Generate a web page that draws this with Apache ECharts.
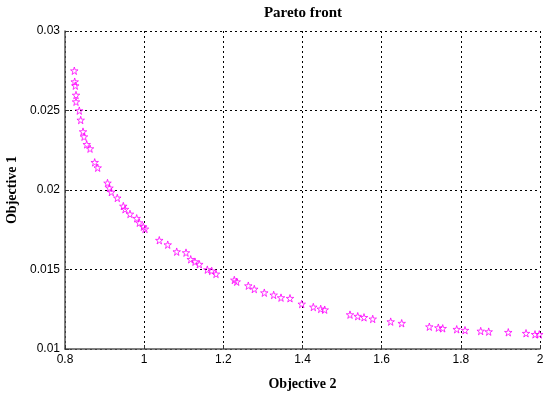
<!DOCTYPE html>
<html>
<head>
<meta charset="utf-8">
<script src="https://cdn.jsdelivr.net/npm/echarts@6/dist/echarts.min.js"></script>
<style>
html,body{margin:0;padding:0;background:#fff;}
#chart{width:550px;height:397px;}
</style>
</head>
<body>
<div id="chart"></div>
<script>
const objective2 = [0.8235,0.8245,0.8260,0.8278,0.8278,0.8361,0.8397,0.8455,0.8480,0.8548,0.8632,0.8750,0.8826,0.9074,0.9124,0.9170,0.9321,0.9473,0.9516,0.9642,0.9811,0.9877,0.9978,1.0021,1.0382,1.0595,1.0822,1.1057,1.1176,1.1284,1.1393,1.1595,1.1706,1.1815,1.2277,1.2338,1.2631,1.2782,1.3035,1.3272,1.3457,1.3684,1.3980,1.4273,1.4460,1.4561,1.5200,1.5395,1.5554,1.5774,1.6228,1.6506,1.7204,1.7431,1.7542,1.7896,1.8106,1.8502,1.8704,1.9199,1.9647,1.9874,1.9982];
const objective1 = [0.02750,0.02681,0.02656,0.02597,0.02555,0.02499,0.02440,0.02367,0.02335,0.02287,0.02260,0.02174,0.02140,0.02044,0.02013,0.01987,0.01950,0.01899,0.01879,0.01849,0.01822,0.01794,0.01769,0.01755,0.01684,0.01656,0.01612,0.01606,0.01564,0.01549,0.01533,0.01499,0.01491,0.01472,0.01434,0.01423,0.01398,0.01377,0.01354,0.01340,0.01323,0.01319,0.01283,0.01264,0.01252,0.01247,0.01216,0.01206,0.01199,0.01189,0.01172,0.01162,0.01140,0.01134,0.01130,0.01124,0.01118,0.01113,0.01109,0.01105,0.01099,0.01092,0.01092];
const xTicks = [0.8, 1, 1.2, 1.4, 1.6, 1.8, 2];
const yTicks = [0.01, 0.015, 0.02, 0.025, 0.03];

const data = objective2.map((x, i) => [x, objective1[i]]);
const starPath = 'path://M50,0 L61,35 L98,35 L68,57 L79,91 L50,70 L21,91 L32,57 L2,35 L39,35 Z';
const gridLine = {show: true, lineStyle: {color: '#000', width: 1, type: [2, 3]}};
const sansLabel = {color: '#000', fontFamily: 'Liberation Sans', fontSize: 12};
const serifName = {color: '#000', fontFamily: 'Liberation Serif', fontSize: 14, fontWeight: 'bold'};

const chart = echarts.init(document.getElementById('chart'), null, {renderer: 'canvas'});
chart.setOption({
  animation: false,
  backgroundColor: '#fff',
  title: {
    text: 'Pareto front',
    left: 298,
    top: 1,
    textAlign: 'center',
    textStyle: Object.assign({}, serifName, {fontSize: 15})
  },
  grid: {left: 65, right: 10, top: 31, bottom: 48, containLabel: false, outerBoundsMode: 'none'},
  xAxis: {
    type: 'value',
    min: xTicks[0],
    max: xTicks[xTicks.length - 1],
    interval: 0.2,
    name: 'Objective 2',
    nameLocation: 'middle',
    nameGap: 28,
    nameTextStyle: serifName,
    axisLine: {show: true, onZero: false, lineStyle: {color: '#555', width: 1.5}},
    axisTick: {show: true, inside: true, length: 4, lineStyle: {color: '#333'}},
    axisLabel: Object.assign({margin: 5, formatter: v => String(+v.toFixed(2))}, sansLabel),
    splitLine: gridLine
  },
  yAxis: {
    type: 'value',
    min: yTicks[0],
    max: yTicks[yTicks.length - 1],
    interval: 0.005,
    name: 'Objective 1',
    nameLocation: 'middle',
    nameGap: 46,
    nameTextStyle: serifName,
    axisLine: {show: true, onZero: false, lineStyle: {color: '#555', width: 1.5}},
    axisTick: {show: true, inside: true, length: 4, lineStyle: {color: '#333'}},
    axisLabel: Object.assign({margin: 5, formatter: v => String(+v.toFixed(3))}, sansLabel),
    splitLine: gridLine
  },
  series: [{
    type: 'scatter',
    data: data,
    symbol: starPath,
    symbolSize: 7.5,
    clip: false,
    itemStyle: {color: 'rgba(0,0,0,0)', borderColor: '#ff00ff', borderWidth: 1}
  }]
});
</script>
</body>
</html>
